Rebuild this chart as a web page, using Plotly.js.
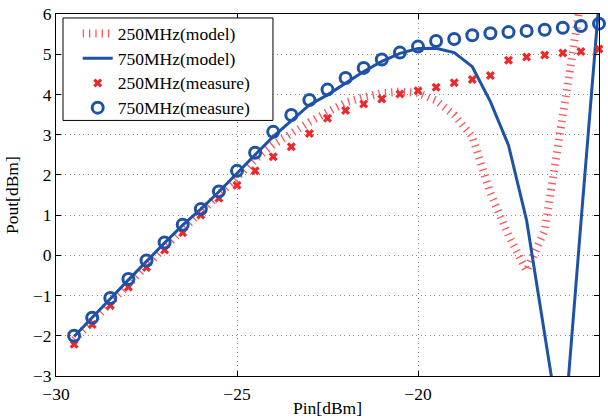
<!DOCTYPE html>
<html>
<head>
<meta charset="utf-8">
<script src="https://cdn.plot.ly/plotly-3.0.1.min.js"></script>
<style>html,body{margin:0;padding:0;background:#fff;}#chart{width:608px;height:418px;}</style>
</head>
<body>
<div id="chart"></div>
<script>
var pin = [-29.5,-29,-28.5,-28,-27.5,-27,-26.5,-26,-25.5,-25,-24.5,-24,-23.5,-23,-22.5,-22,-21.5,-21,-20.5,-20,-19.5,-19,-18.5,-18,-17.5,-17,-16.5,-16,-15.5,-15];

var model250 = [-2.1,-1.63,-1.17,-0.7,-0.24,0.2,0.64,1.08,1.52,1.96,2.38,2.75,3.05,3.31,3.56,3.8,3.93,4.03,4.07,4.04,3.85,3.49,2.95,1.55,0.5,-0.38,0.62,3.4,6.4,9.2];
var model750 = [-2.02,-1.56,-1.08,-0.61,-0.14,0.31,0.75,1.15,1.58,2.05,2.5,2.95,3.35,3.74,3.99,4.28,4.57,4.82,5.02,5.14,5.15,5.04,4.69,3.82,2.74,0.87,-2.06,-4.8,0.8,6.3];
var meas250 = [-2.21,-1.72,-1.25,-0.79,-0.3,0.13,0.56,1.0,1.42,1.74,2.1,2.45,2.7,3.03,3.41,3.6,3.76,3.89,4.01,4.09,4.18,4.29,4.37,4.47,4.85,4.93,4.98,5.03,5.07,5.13];
var meas750 = [-2.0,-1.55,-1.06,-0.59,-0.13,0.32,0.76,1.15,1.59,2.1,2.55,3.07,3.49,3.86,4.12,4.41,4.66,4.87,5.04,5.19,5.33,5.38,5.47,5.52,5.55,5.58,5.61,5.66,5.7,5.76];

var names = ['250MHz(model)','750MHz(model)','250MHz(measure)','750MHz(measure)'];
var xTicks = [-30,-25,-20,-15];
var yTicks = [-3,-2,-1,0,1,2,3,4,5,6];
var xTitle = 'Pin[dBm]';
var yTitle = 'Pout[dBm]';

var RED = 'rgb(238,40,40)';
var BLUE = 'rgb(30,82,168)';
var FONT = 'Liberation Serif, Times New Roman, serif';
var FS = 17.5;

function minusLabel(v){ return v < 0 ? '\u2212' + Math.abs(v) : String(v); }
function legName(s){ return '<span style="font-size:17.5px">' + s + '</span>'; }

var traces = [
  {x: pin, y: model250, name: legName(names[0]), type: 'scatter', mode: 'lines',
   line: {color: 'rgb(250,85,90)', width: 8, dash: '1.3px,5px'}},
  {x: pin, y: model750, name: legName(names[1]), type: 'scatter', mode: 'lines',
   line: {color: BLUE, width: 3}},
  {x: pin, y: meas250, name: legName(names[2]), type: 'scatter', mode: 'markers', cliponaxis: false,
   marker: {symbol: 'x', size: 8, color: RED, line: {width: 0}}},
  {x: pin, y: meas750, name: legName(names[3]), type: 'scatter', mode: 'markers', cliponaxis: false,
   marker: {symbol: 'circle-open', size: 11, color: BLUE, line: {width: 3, color: BLUE}}}
];

var axisCommon = {
  showline: true, linecolor: '#000', linewidth: 1, mirror: 'ticks',
  ticks: 'inside', ticklen: 5, tickcolor: '#000', tickwidth: 1,
  showgrid: true, gridcolor: 'rgb(140,140,140)', griddash: '1px,3.5px', gridwidth: 1,
  zeroline: false,
  tickfont: {family: FONT, size: FS, color: '#000'}
};

var layout = {
  width: 608, height: 418,
  margin: {l: 56, r: 9, t: 14, b: 42},
  paper_bgcolor: '#fff', plot_bgcolor: '#fff',
  font: {family: FONT, size: FS, color: '#000'},
  showlegend: true,
  legend: {x: 0.04, y: 0.994, xanchor: 'left', yanchor: 'top',
    bgcolor: 'rgba(0,0,0,0)', borderwidth: 0,
    font: {family: FONT, size: 16.7, color: '#000'},
    tracegroupgap: 0},
  shapes: [{type: 'rect', xref: 'paper', yref: 'paper', x0: 0.0129, x1: 0.3996, y0: 0.706, y1: 0.989,
    line: {color: '#000', width: 1}, fillcolor: '#fff', layer: 'above'}],
  annotations: [{text: yTitle, xref: 'paper', yref: 'paper', x: -0.081, y: 0.5, textangle: -90,
    showarrow: false, xanchor: 'center', yanchor: 'middle', font: {family: FONT, size: FS, color: '#000'}}],
  xaxis: Object.assign({}, axisCommon, {
    range: [-30, -15], tickvals: xTicks, ticktext: xTicks.map(minusLabel), ticklabelstandoff: 2,
    title: {text: xTitle, standoff: 0, font: {family: FONT, size: FS, color: '#000'}},
    automargin: false
  }),
  yaxis: Object.assign({}, axisCommon, {
    range: [-3, 6], tickvals: yTicks, ticktext: yTicks.map(minusLabel),
    automargin: false
  })
};

Plotly.newPlot('chart', traces, layout, {displayModeBar: false, staticPlot: true});
</script>
</body>
</html>
